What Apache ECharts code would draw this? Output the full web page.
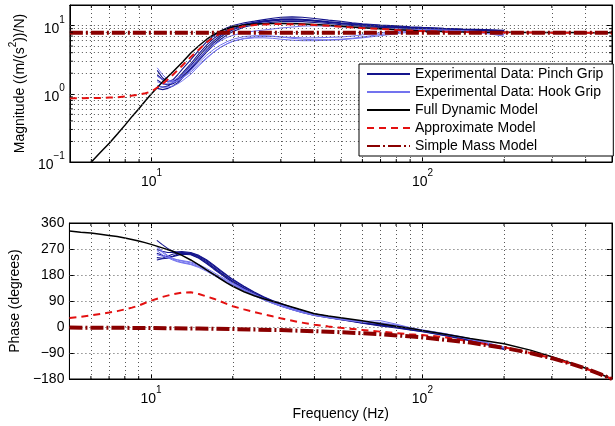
<!DOCTYPE html>
<html><head><meta charset="utf-8">
<script src="https://cdn.jsdelivr.net/npm/echarts@6/dist/echarts.min.js"></script>
<style>html,body{margin:0;padding:0;background:#fff}#c{width:615px;height:426px}</style>
</head><body><div id="c"></div>
<script>
// ---------- DATA ----------
const modelFreq = [5,5.5,6,6.5,7,7.5,8,8.5,9,9.5,10,11,12,13,14,15,16,17,18,19,20,22,24,26,28,30,35,40,45,50,60,70,80,90,100,120,150,200,250,300,350,400,450,500];
const fullMag   = [0.044,0.066,0.1,0.14,0.19,0.26,0.35,0.47,0.61,0.79,1.0,1.5,2.1,2.9,4.0,5.1,6.3,7.4,8.3,9.0,9.6,10.2,10.5,10.6,10.7,10.7,10.6,10.4,10.1,9.8,9.3,9.0,8.7,8.5,8.3,8.15,8.0,7.95,7.9,7.9,7.88,7.86,7.85,7.85];
const approxMag = [0.86,0.86,0.87,0.87,0.88,0.89,0.91,0.94,0.97,1.02,1.08,1.4,1.9,2.6,3.5,4.5,5.7,6.8,7.7,8.4,9.0,9.8,10.2,10.4,10.5,10.5,10.4,10.2,9.9,9.6,9.2,8.9,8.6,8.4,8.3,8.1,8.0,7.9,7.88,7.86,7.85,7.85,7.85,7.85];
const fullPhase   = [332,328,325,321,317,313,308,303,298,292,286,274,262,248,232,215,198,182,167,153,141,122,108,98,89,81,62,46,38,32,22,11,3,-4,-12,-24,-40,-58,-80,-103,-124,-143,-162,-180];
const approxPhase = [31,35,40,45,50,55,61,67,74,83,91,104,113,119,120,114,106,98,89,80,72,61,52,44,37,30,17,8,2,-3,-10,-16,-21,-25,-28,-35,-50,-70,-90,-108,-126,-144,-162,-180];
const massFreq  = [5,7,10,15,20,30,40,50,70,100,150,200,250,300,350,400,450,500];
const massMag   = [7.85,7.85,7.85,7.85,7.85,7.85,7.85,7.85,7.85,7.85,7.85,7.85,7.85,7.85,7.85,7.85,7.85,7.85];
const massPhase = [-2,-2.5,-3.6,-5.4,-7.2,-10.8,-14.4,-18,-25,-36,-54,-72,-90,-108,-126,-144,-162,-180];

const expFreq = [10.5,11,11.5,12,12.5,13,14,15,16,17,18,19,20,22,24,26,28,30,33,36,40,45,50,55,60,70,80,90,100,120,140,170,200];
const pinchMag1 = [1.9,1.6,1.5,1.6,1.9,2.3,3.2,4.4,5.8,7.1,8.3,9.3,10.0,11.0,11.6,12.2,12.8,13.2,13.4,13.2,12.7,12.0,11.5,11.0,10.6,10.2,9.9,9.6,9.4,9.1,8.9,8.7,8.5];
const pinchMag2 = [1.3,1.25,1.3,1.45,1.7,2.0,2.8,3.9,5.2,6.5,7.6,8.6,9.4,10.5,11.2,11.7,12.1,12.4,12.5,12.3,11.9,11.4,11.0,10.7,10.4,10.0,9.7,9.4,9.2,9.0,8.8,8.6,8.4];
const pinchMag3 = [1.6,1.4,1.35,1.4,1.55,1.8,2.4,3.3,4.4,5.6,6.8,7.8,8.7,10.0,10.8,11.3,11.7,12.0,12.1,12.0,11.6,11.1,10.7,10.3,10.0,9.6,9.4,9.2,9.0,8.8,8.7,8.5,8.3];
const pinchMag4 = [1.2,1.15,1.2,1.3,1.45,1.7,2.3,3.1,4.1,5.2,6.3,7.3,8.2,9.5,10.3,10.8,11.2,11.4,11.5,11.4,11.1,10.7,10.3,10.0,9.7,9.4,9.2,9.0,8.9,8.7,8.6,8.5,8.4];
const pinchMag5 = [2.2,1.7,1.5,1.5,1.65,1.9,2.6,3.6,4.8,6.0,7.2,8.2,9.0,10.2,11.0,11.6,12.0,12.3,12.4,12.2,11.8,11.2,10.8,10.5,10.2,9.8,9.5,9.3,9.1,8.9,8.7,8.5,8.2];
const hookMag1 = [2.4,1.9,1.6,1.5,1.55,1.7,2.1,2.7,3.4,4.1,4.8,5.4,5.9,6.5,6.8,6.9,6.9,6.8,6.7,6.6,6.6,6.7,6.8,7.0,7.3,7.8,8.2,8.4,8.5,8.5,8.3,7.9,7.4];
const hookMag2 = [1.5,1.4,1.4,1.45,1.55,1.7,2.2,2.9,3.7,4.5,5.2,5.8,6.3,6.9,7.1,7.1,7.0,6.8,6.5,6.3,6.2,6.2,6.3,6.5,6.8,7.4,7.9,8.2,8.3,8.3,8.1,7.7,7.0];
const hookMag3 = [1.8,1.6,1.5,1.55,1.7,1.9,2.5,3.3,4.3,5.2,6.0,6.7,7.2,7.9,8.3,8.6,8.9,9.2,9.5,9.8,9.9,9.8,9.6,9.4,9.2,9.0,8.9,8.8,8.7,8.6,8.4,8.1,7.8];
const hookMag4 = [1.3,1.25,1.25,1.3,1.4,1.55,1.95,2.6,3.3,4.1,4.8,5.4,5.9,6.4,6.6,6.6,6.5,6.3,6.1,6.0,6.0,6.1,6.2,6.4,6.6,7.1,7.6,8.0,8.2,8.3,8.2,7.9,7.5];
const pinchPh1 = [300,285,272,263,258,256,252,240,222,204,187,172,158,135,116,101,89,79,66,55,45,36,29,23,18,9,2,-6,-12,-25,-37,-55,-72];
const pinchPh2 = [240,238,245,252,256,258,256,246,230,212,194,178,163,139,119,103,90,80,67,56,45,35,28,22,16,7,0,-7,-14,-27,-39,-57,-75];
const pinchPh3 = [255,248,242,245,252,255,254,243,226,207,189,173,158,133,113,98,86,76,63,52,42,33,26,20,14,5,-2,-9,-15,-28,-40,-58,-77];
const pinchPh4 = [232,236,238,243,248,252,250,238,220,201,184,168,154,130,110,95,83,73,61,50,40,32,25,19,13,4,-3,-10,-16,-29,-42,-59,-78];
const pinchPh5 = [268,262,258,258,260,261,258,248,233,215,197,180,165,141,121,105,92,82,68,57,46,37,30,24,18,8,1,-6,-13,-26,-38,-56,-73];
const hookPh1 = [280,262,248,238,232,228,222,212,198,184,171,160,149,129,112,98,86,76,64,54,44,36,30,25,19,22,10,-2,-10,-22,-34,-52,-70];
const hookPh2 = [265,250,240,232,226,222,216,206,193,179,166,155,145,126,109,95,83,73,61,51,41,33,27,22,17,13,5,-4,-12,-24,-36,-54,-72];
const hookPh3 = [250,245,240,236,233,230,225,216,203,189,175,163,152,131,114,99,87,77,65,54,44,35,28,23,18,11,3,-5,-13,-25,-37,-55,-73];
const hookPh4 = [275,258,245,235,228,224,218,209,196,182,169,157,146,126,108,94,82,72,60,50,40,32,26,21,17,15,7,-3,-11,-23,-35,-53,-71];

const xGridVals   = [6,7,8,9,10,20,30,40,50,60,70,80,90,100,200,300,400];
const xMinorVals  = [6,7,8,9,20,30,40,50,60,70,80,90,200,300,400];
const magGridVals = [0.2,0.3,0.4,0.5,0.6,0.7,0.8,0.9,1,2,3,4,5,6,7,8,9,10];
const magMinorVals = [0.2,0.3,0.4,0.5,0.6,0.7,0.8,0.9,2,3,4,5,6,7,8,9];
const phaseTicks  = [-180,-90,0,90,180,270,360];
const legendNames = ['Experimental Data: Pinch Grip','Experimental Data: Hook Grip','Full Dynamic Model','Approximate Model','Simple Mass Model'];

// ---------- STYLE ----------
const FONT = '"Liberation Sans", Arial, Helvetica, sans-serif';
const FS = 14;
const PINCH = '#14148c', HOOK = '#7373ee', FULL = '#000000', APPROX = '#e31010', MASS = '#8a0000';
const zip = (xs, ys) => xs.map((x, i) => [x, ys[i]]);
const sup = v => {
  const e = Math.round(Math.log10(v));
  if (Math.abs(v - Math.pow(10, e)) / v > 1e-6) return '';
  return '{b|10}{s|' + String(e).replace('-', '\u2212') + '}';
};
const richLbl = {
  b: {fontSize: FS, fontFamily: FONT, color: '#000', lineHeight: 21, verticalAlign: 'bottom'},
  s: {fontSize: 10, fontFamily: FONT, color: '#000', lineHeight: 21, verticalAlign: 'top'}
};
const dotted = {type: [1, 3], color: '#555', width: 1};

function logX(grid, pos, show) {
  return {type: 'log', logBase: 10, gridIndex: grid, position: pos, min: 5, max: 500,
    axisLine: {show: true, onZero: false, lineStyle: {color: '#000', width: 1}},
    axisTick: {show: true, inside: true, length: 5, lineStyle: {color: '#000'}},
    axisLabel: {show: show, formatter: sup, rich: richLbl, margin: 6},
    splitLine: {show: false}, minorTick: {show: false}};
}

const series = [];
function exp(name, color, xi, yi, arr, w) {
  series.push({name: name, type: 'line', xAxisIndex: xi, yAxisIndex: yi, data: zip(expFreq, arr),
    symbol: 'none', showSymbol: false, lineStyle: {color: color, width: w}, itemStyle: {color: color}, z: 3, silent: true, animation: false});
}
function model(name, color, xi, yi, fx, arr, w, type, z) {
  series.push({name: name, type: 'line', xAxisIndex: xi, yAxisIndex: yi, data: zip(fx, arr),
    symbol: 'none', showSymbol: false, smooth: false,
    lineStyle: {color: color, width: w, type: type}, itemStyle: {color: color}, z: z, silent: true, animation: false});
}
// minor ticks (drawn through the axes' own scales)
function minorTicks(xi, yi, vals, dir, lo, hi) {
  series.push({type: 'custom', xAxisIndex: xi, yAxisIndex: yi, z: 7, silent: true, animation: false, clip: false,
    data: vals.map(v => [v]),
    renderItem: (params, api) => {
      const v = api.value(0);
      let a1, a2;
      if (dir === 'x') { a1 = api.coord([v, lo]); a2 = api.coord([v, hi]); }
      else { a1 = api.coord([lo, v]); a2 = api.coord([hi, v]); }
      const L = 3, st = {stroke: '#000', lineWidth: 1};
      if (dir === 'x') return {type: 'group', children: [
        {type: 'line', shape: {x1: a1[0], y1: a1[1], x2: a1[0], y2: a1[1] - L}, style: st},
        {type: 'line', shape: {x1: a2[0], y1: a2[1], x2: a2[0], y2: a2[1] + L}, style: st}]};
      return {type: 'group', children: [
        {type: 'line', shape: {x1: a1[0], y1: a1[1], x2: a1[0] + L, y2: a1[1]}, style: st},
        {type: 'line', shape: {x1: a2[0], y1: a2[1], x2: a2[0] - L, y2: a2[1]}, style: st}]};
    }});
}
// grid helper series
series.push({type: 'line', xAxisIndex: 0, yAxisIndex: 0, data: [], z: 1, silent: true, animation: false,
  markLine: {silent: true, symbol: 'none', label: {show: false}, lineStyle: dotted, animation: false,
    data: xGridVals.map(v => ({xAxis: v})).concat(magGridVals.map(v => ({yAxis: v})))}});
series.push({type: 'line', xAxisIndex: 2, yAxisIndex: 2, data: [], z: 1, silent: true, animation: false,
  markLine: {silent: true, symbol: 'none', label: {show: false}, lineStyle: dotted, animation: false,
    data: xGridVals.map(v => ({xAxis: v})).concat(phaseTicks.slice(1, -1).map(v => ({yAxis: v})))}});
minorTicks(0, 0, xMinorVals, 'x', 0.1, 20);
minorTicks(0, 0, magMinorVals, 'y', 5, 500);
minorTicks(2, 2, xMinorVals, 'x', -180, 360);

[pinchMag1, pinchMag2, pinchMag3, pinchMag4, pinchMag5].forEach(a => exp(legendNames[0], PINCH, 0, 0, a, 1.1));
[hookMag1, hookMag2, hookMag3, hookMag4].forEach(a => exp(legendNames[1], HOOK, 0, 0, a, 1));
model(legendNames[2], FULL, 0, 0, modelFreq, fullMag, 1.5, 'solid', 4);
model(legendNames[3], APPROX, 0, 0, modelFreq, approxMag, 2, [7, 5], 5);
model(legendNames[4], MASS, 0, 0, massFreq, massMag, 4, [13, 3, 2, 3], 6);

[pinchPh1, pinchPh2, pinchPh3, pinchPh4, pinchPh5].forEach(a => exp(legendNames[0], PINCH, 2, 2, a, 1.1));
[hookPh1, hookPh2, hookPh3, hookPh4].forEach(a => exp(legendNames[1], HOOK, 2, 2, a, 1));
model(legendNames[2], FULL, 2, 2, modelFreq, fullPhase, 1.5, 'solid', 4);
model(legendNames[3], APPROX, 2, 2, modelFreq, approxPhase, 2, [7, 5], 5);
model(legendNames[4], MASS, 2, 2, massFreq, massPhase, 4, [13, 3, 2, 3], 6);

const option = {
  animation: false,
  backgroundColor: '#fff',
  textStyle: {fontFamily: FONT},
  grid: [
    {left: 63, top: 5, width: 551, height: 157, show: true, borderColor: '#000', borderWidth: 1, backgroundColor: 'transparent'},
    {left: 63, top: 223, width: 551, height: 156, show: true, borderColor: '#000', borderWidth: 1, backgroundColor: 'transparent'}
  ],
  xAxis: [
    logX(0, 'bottom', true), logX(0, 'top', false),
    Object.assign(logX(1, 'bottom', true), {name: 'Frequency (Hz)', nameLocation: 'middle', nameGap: 25,
      nameTextStyle: {fontSize: FS, fontFamily: FONT, color: '#000'}}),
    logX(1, 'top', false)
  ],
  yAxis: [
    {type: 'log', logBase: 10, gridIndex: 0, position: 'left', min: 0.1, max: 20,
      name: '{n|Magnitude ((m/(s}{s|2}{n|))/N)}', nameLocation: 'middle', nameGap: 37, nameRotate: 90,
      nameTextStyle: {rich: {n: {fontSize: FS, fontFamily: FONT, color: '#000', lineHeight: 19, verticalAlign: 'bottom'},
                             s: {fontSize: 10, fontFamily: FONT, color: '#000', lineHeight: 19, verticalAlign: 'top'}}},
      axisLine: {show: true, onZero: false, lineStyle: {color: '#000'}},
      axisTick: {show: true, inside: true, length: 5, lineStyle: {color: '#000'}},
      axisLabel: {formatter: sup, rich: richLbl, margin: 5},
      splitLine: {show: false}},
    {type: 'log', logBase: 10, gridIndex: 0, position: 'right', min: 0.1, max: 20,
      axisLine: {show: true, onZero: false, lineStyle: {color: '#000'}},
      axisTick: {show: true, inside: true, length: 5, lineStyle: {color: '#000'}},
      axisLabel: {show: false}, splitLine: {show: false}},
    {type: 'value', gridIndex: 1, position: 'left', min: -180, max: 360, interval: 90,
      name: 'Phase (degrees)', nameLocation: 'middle', nameGap: 41,
      nameTextStyle: {fontSize: FS, fontFamily: FONT, color: '#000'},
      axisLine: {show: true, onZero: false, lineStyle: {color: '#000'}},
      axisTick: {show: true, inside: true, length: 5, lineStyle: {color: '#000'}},
      axisLabel: {fontSize: FS, fontFamily: FONT, color: '#000', margin: 5,
        formatter: v => String(v).replace('-', '\u2212')},
      splitLine: {show: false}},
    {type: 'value', gridIndex: 1, position: 'right', min: -180, max: 360, interval: 90,
      axisLine: {show: true, onZero: false, lineStyle: {color: '#000'}},
      axisTick: {show: true, inside: true, length: 5, lineStyle: {color: '#000'}},
      axisLabel: {show: false}, splitLine: {show: false}}
  ],
  legend: {
    data: legendNames, orient: 'vertical', left: 359, top: 64,
    padding: [3, 10, 3, 7], itemGap: 4, itemWidth: 43, itemHeight: 14,
    backgroundColor: '#fff', borderColor: '#000', borderWidth: 1, borderRadius: 0,
    itemStyle: {opacity: 0},
    textStyle: {fontSize: FS, fontFamily: FONT, color: '#000'},
    selectedMode: false, z: 10
  },
  series: series
};
const chart = echarts.init(document.getElementById('c'), null, {renderer: 'canvas'});
chart.setOption(option);
</script></body></html>
